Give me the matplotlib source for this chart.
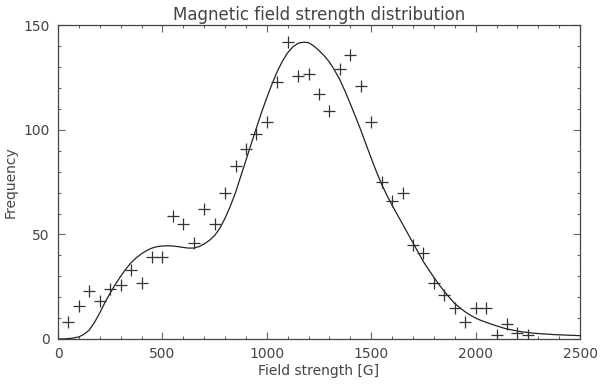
import matplotlib
matplotlib.use("Agg")
import matplotlib.pyplot as plt
from matplotlib.ticker import MultipleLocator

# histogram counts (every 50 G)
field = [50, 100, 150, 200, 250, 300, 350, 400, 450, 500,
         550, 600, 650, 700, 750, 800, 850, 900, 950, 1000,
         1050, 1100, 1150, 1200, 1250, 1300, 1350, 1400, 1450, 1500,
         1550, 1600, 1650, 1700, 1750, 1800, 1850, 1900, 1950, 2000,
         2050, 2100, 2150, 2200, 2250]
counts = [8, 16, 23, 18, 24, 26, 33, 27, 39, 39,
          59, 55, 46, 62, 55, 70, 83, 91, 98, 104,
          123, 142, 126, 127, 117, 109, 129, 136, 121, 104,
          75, 66, 70, 45, 41, 27, 21, 15, 8, 15,
          15, 2, 7, 3, 2]

# fitted curve, every 25 G
fit_x = list(range(0, 2525, 25))
fit_y = [0.0, 0.05, 0.2, 0.5, 1.0, 2.3, 4.3, 8.0, 12.5, 17.5,
         22.0, 26.2, 30.0, 33.5, 36.5, 38.9, 40.8, 42.3, 43.5, 44.2,
         44.5, 44.6, 44.5, 44.2, 43.8, 43.5, 43.5, 44.2, 45.5, 47.2,
         49.5, 53.0, 57.8, 63.5, 70.0, 77.8, 85.5, 93.3, 101.0, 108.5,
         115.5, 122.0, 128.0, 133.0, 137.0, 139.8, 141.5, 142.0, 141.8, 140.2,
         138.0, 135.5, 132.5, 128.5, 124.0, 118.5, 112.5, 106.3, 100.0, 93.2,
         86.5, 80.0, 74.0, 68.8, 64.0, 59.5, 55.0, 50.5, 46.0, 41.5,
         37.0, 33.2, 29.5, 26.0, 22.8, 19.8, 17.0, 14.9, 13.0, 11.4,
         10.0, 8.9, 8.0, 7.1, 6.3, 5.5, 4.8, 4.3, 3.8, 3.4,
         3.1, 2.8, 2.6, 2.4, 2.3, 2.1, 2.0, 1.9, 1.8, 1.7, 1.6]

txt = "#444444"
plt.rcParams["font.family"] = ["DejaVu Sans"]

fig = plt.figure(figsize=(6, 3.84), dpi=100)
ax = fig.add_axes([0.0967, 0.1172, 0.87, 0.8164])

ax.plot(fit_x, fit_y, color="#222222", lw=0.9)
ax.plot(field, counts, ls="none", marker="+", ms=9, mew=0.9, color="#333333")

ax.set_xlim(0, 2500)
ax.set_ylim(0, 150)
ax.xaxis.set_major_locator(MultipleLocator(500))
ax.xaxis.set_minor_locator(MultipleLocator(100))
ax.yaxis.set_major_locator(MultipleLocator(50))
ax.yaxis.set_minor_locator(MultipleLocator(10))
ax.tick_params(which="both", direction="in", top=True, right=True,
               colors="#666666", labelcolor=txt, labelsize=10, width=0.8)
ax.tick_params(which="major", length=5, pad=6)
ax.tick_params(which="minor", length=2.5)
for s in ax.spines.values():
    s.set_color("#444444")
    s.set_linewidth(0.9)

ax.set_title("Magnetic field strength distribution", fontsize=12, color=txt, pad=4)
ax.set_xlabel("Field strength [G]", fontsize=10, color=txt, labelpad=2)
ax.set_ylabel("Frequency", fontsize=10, color=txt, labelpad=4)

fig.savefig("out.png", dpi=100)
